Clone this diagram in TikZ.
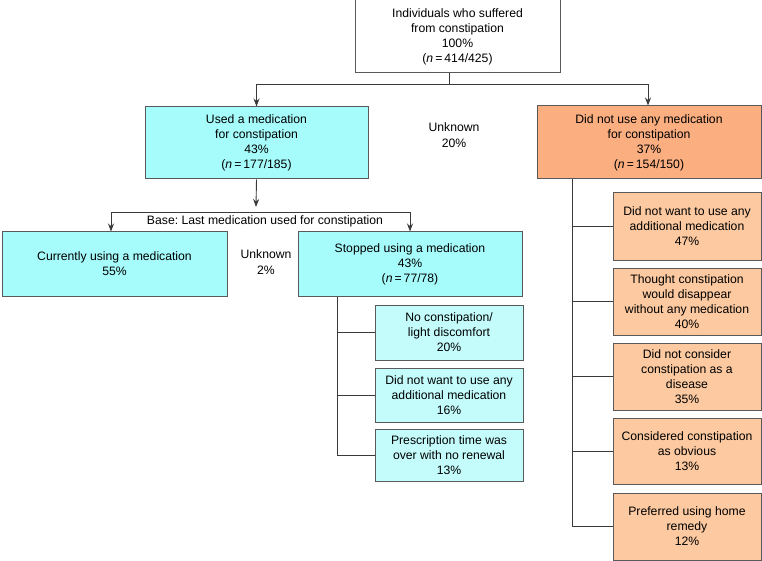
\documentclass[tikz,border=0pt]{standalone}
\usepackage{fontspec}
\setmainfont{Liberation Sans}
\usetikzlibrary{arrows.meta,calc}
\frenchspacing
\definecolor{cyanmain}{HTML}{A6FBFB}
\definecolor{cyansub}{HTML}{C4FCFC}
\definecolor{orgmain}{HTML}{FBAE80}
\definecolor{orgsub}{HTML}{FCC9A0}
\definecolor{bordergray}{HTML}{5A5A5A}
\definecolor{linegray}{HTML}{3A3A3A}
\tikzset{
  box/.style={draw=bordergray, line width=1pt, rectangle, align=center, inner sep=2pt,
    font=\fontsize{12.2}{15}\selectfont},
  subbox/.style={box, font=\fontsize{12.2}{15}\selectfont},
  conn/.style={draw=linegray, line width=0.9pt},
  arr/.style={conn, -{Stealth[length=8pt,width=6pt]}},
  lbl/.style={align=center, inner sep=0pt, font=\fontsize{12.2}{15.5}\selectfont},
}
\newcommand{\nn}{(\textit{n}\,=\,}
\begin{document}
\begin{tikzpicture}[x=1pt,y=-1pt]
\useasboundingbox (0,0) rectangle (762,561);
\fill[white] (0,0) rectangle (762,561);

% top
\node[box, fill=white, minimum width=205pt, minimum height=73pt] (top) at (457.5,36.5)
  {Individuals who suffered\\from constipation\\100\%\\\nn414/425)};

% level 2
\node[box, fill=cyanmain, minimum width=223pt, minimum height=72pt] (used) at (256.5,143)
  {Used a medication\\for constipation\\43\%\\\nn177/185)};
\node[box, fill=orgmain, minimum width=224pt, minimum height=73pt] (notused) at (649,142.5)
  {Did not use any medication\\for constipation\\37\%\\\nn154/150)};
\node[lbl] (unk20) at (454,135) {Unknown\\20\%};

% level 3
\node[box, fill=cyanmain, minimum width=225pt, minimum height=64pt] (current) at (114.5,264)
  {Currently using a medication\\55\%};
\node[box, fill=cyanmain, minimum width=224pt, minimum height=64pt] (stopped) at (410,264)
  {Stopped using a medication\\43\%\\\nn77/78)};
\node[lbl] (unk2) at (266,262) {Unknown\\2\%};
\node[lbl] (base) at (265,221) {Base: Last medication used for constipation};

% stopped reasons
\node[subbox, fill=cyansub, minimum width=148pt, minimum height=55pt] (s1) at (449,332.5)
  {No constipation/\\light discomfort\\20\%};
\node[subbox, fill=cyansub, minimum width=148pt, minimum height=54pt] (s2) at (449,395)
  {Did not want to use any\\additional medication\\16\%};
\node[subbox, fill=cyansub, minimum width=148pt, minimum height=52pt] (s3) at (449,455)
  {Prescription time was\\over with no renewal\\13\%};

% not used reasons
\node[subbox, fill=orgsub, minimum width=148pt, minimum height=67pt] (r1) at (687,226.5)
  {Did not want to use any\\additional medication\\47\%};
\node[subbox, fill=orgsub, minimum width=148pt, minimum height=67pt] (r2) at (687,301.5)
  {Thought constipation\\would disappear\\without any medication\\40\%};
\node[subbox, fill=orgsub, minimum width=148pt, minimum height=67pt] (r3) at (687,376.5)
  {Did not consider\\constipation as a\\disease\\35\%};
\node[subbox, fill=orgsub, minimum width=148pt, minimum height=66pt] (r4) at (687,451)
  {Considered constipation\\as obvious\\13\%};
\node[subbox, fill=orgsub, minimum width=148pt, minimum height=67pt] (r5) at (687,526.5)
  {Preferred using home\\remedy\\12\%};

% junction coordinates
\coordinate (j1) at (449,84);
\coordinate (j2) at (256,212);
\coordinate (sx) at (337,0);
\coordinate (rx) at (572,0);

% connectors top
\draw[conn] (top.south -| j1) -- (j1);
\draw[arr] (j1) -| (used.north);
\draw[arr] (j1) -| ($(notused.north)+(-1,0)$);

% used -> split
\draw[arr] (used.south) -- ($(j2)+(0,-5)$);
\draw[arr] (j2) -| ($(current.north)+(-3.5,0)$);
\draw[arr] (j2) -| (stopped.north);

% stopped reasons
\draw[conn] (stopped.south -| sx) -- (s3.west -| sx) -- (s3.west);
\draw[conn] (s1.west -| sx) -- (s1.west);
\draw[conn] (s2.west -| sx) -- (s2.west);

% not used reasons
\draw[conn] (notused.south -| rx) -- (r5.west -| rx) -- (r5.west);
\draw[conn] (r1.west -| rx) -- (r1.west);
\draw[conn] (r2.west -| rx) -- (r2.west);
\draw[conn] (r3.west -| rx) -- (r3.west);
\draw[conn] (r4.west -| rx) -- (r4.west);
\end{tikzpicture}
\end{document}
